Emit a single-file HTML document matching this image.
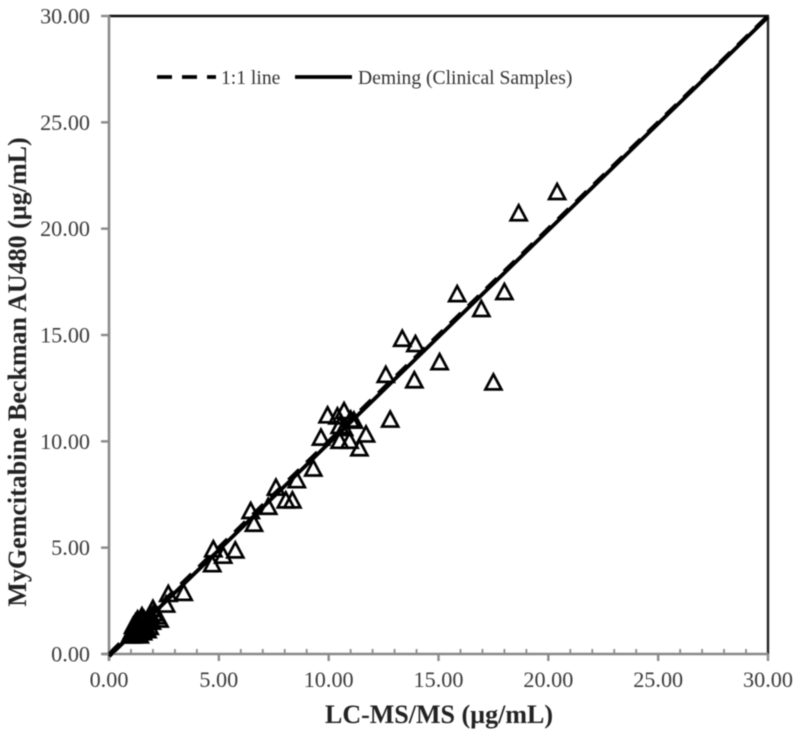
<!DOCTYPE html>
<html>
<head>
<meta charset="utf-8">
<style>
html,body{margin:0;padding:0;background:#fff;}
body{width:800px;height:736px;overflow:hidden;}
svg{display:block;}
text{font-family:"Liberation Serif",serif;}
</style>
</head>
<body>
<svg id="chart" xmlns="http://www.w3.org/2000/svg" width="800" height="736" viewBox="0 0 800 736">
  <defs><filter id="soft" x="-5%" y="-5%" width="110%" height="110%"><feGaussianBlur stdDeviation="0.45"/></filter></defs>
  <g id="root" filter="url(#soft)">
    <g id="frame"></g>
    <g id="ticks"></g>
    <g id="points"></g>
    <g id="lines"></g>
    <g id="labels"></g>
    <text x="439" y="723" text-anchor="middle" font-size="26" font-weight="bold" fill="#222">LC-MS/MS (µg/mL)</text>
    <text transform="translate(26 372) rotate(-90)" text-anchor="middle" font-size="26" font-weight="bold" fill="#222">MyGemcitabine Beckman AU480 (µg/mL)</text>
    <g>
      <line x1="157" y1="77" x2="216" y2="77" stroke="#000" stroke-width="3.8" stroke-dasharray="15 10"/>
      <text x="221" y="84" font-size="19.6" fill="#333">1:1 line</text>
      <line x1="295" y1="77" x2="352" y2="77" stroke="#000" stroke-width="3.8"/>
      <text x="358" y="84" font-size="19.6" fill="#333">Deming (Clinical Samples)</text>
    </g>
  </g>
</svg>
<script>
const xValues = [20.4,18.65,18.0,15.85,16.95,13.35,13.95,15.05,12.6,13.9,17.5,12.8,10.7,9.95,10.4,11.0,11.15,10.5,10.7,11.7,9.65,10.5,10.95,11.4,9.3,8.55,7.6,8.05,8.35,7.25,6.45,6.6,4.75,5.75,5.2,4.7,3.4,2.7,2.6,2.2,2.0,2.3,1.9,1.7,1.5,1.3,1.6,1.1,1.2,1.4,1.0,1.25,1.45,1.8,0.95,1.15,1.05,1.35,1.55,1.75,1.65,1.85,1.3,1.1,1.5,1.95,2.05,1.4,1.2,1.6];
const yValues = [21.7,20.7,17.0,16.9,16.2,14.8,14.55,13.7,13.1,12.85,12.75,11.0,11.4,11.2,11.15,11.0,10.95,10.7,10.6,10.3,10.15,10.0,10.0,9.65,8.7,8.15,7.8,7.2,7.2,6.9,6.7,6.1,4.9,4.85,4.6,4.2,2.85,2.8,2.3,1.75,2.1,1.6,1.8,1.5,1.55,1.4,1.2,1.3,1.0,1.1,0.85,0.9,1.35,1.7,0.85,1.2,1.05,0.9,1.0,1.1,1.35,1.25,1.6,0.85,1.75,1.5,1.9,0.85,1.45,1.6];
const identityLine = [0, 30];
const demingX = [0, 30];
const demingY = [-0.12, 29.95];
const majorTicks = [0, 5, 10, 15, 20, 25, 30];
const majorLabels = ["0.00", "5.00", "10.00", "15.00", "20.00", "25.00", "30.00"];
const minorTicks = [1,2,3,4,6,7,8,9,11,12,13,14,16,17,18,19,21,22,23,24,26,27,28,29];

const NS = 'http://www.w3.org/2000/svg';
const X0 = 109, X1 = 768, Y0 = 654, Y1 = 16, MAXV = 30;
function sx(v){ return X0 + (X1 - X0) * v / MAXV; }
function sy(v){ return Y0 - (Y0 - Y1) * v / MAXV; }
function make(tag, attrs, parent){
  const el = document.createElementNS(NS, tag);
  for (const k in attrs) el.setAttribute(k, attrs[k]);
  parent.appendChild(el);
  return el;
}
const frame = document.getElementById('frame');
const ticksG = document.getElementById('ticks');
const pointsG = document.getElementById('points');
const linesG = document.getElementById('lines');
const labelsG = document.getElementById('labels');

const topBorder = make('line', {x1:X0, y1:Y1, x2:X1+1, y2:Y1, stroke:'#111', 'stroke-width':2.4}, frame);


const rightBorder = make('line', {x1:X1, y1:Y1, x2:X1, y2:Y0, stroke:'#222', 'stroke-width':2.4}, frame);


const yAxis = make('line', {x1:X0, y1:Y1, x2:X0, y2:Y0+7, stroke:'#8a8a8a', 'stroke-width':2.6}, frame);


const xAxis = make('line', {x1:X0-7, y1:Y0, x2:X1, y2:Y0, stroke:'#8a8a8a', 'stroke-width':2.6}, frame);



majorTicks.forEach(function(t, i){
  const xt = make('line', {x1:sx(t), y1:Y0, x2:sx(t), y2:Y0+7, stroke:'#8a8a8a', 'stroke-width':2.4}, ticksG);
  
  
  const yt = make('line', {x1:X0-8, y1:sy(t), x2:X0, y2:sy(t), stroke:'#8a8a8a', 'stroke-width':2.4}, ticksG);
  
  
  const xl = make('text', {x:sx(t), y:687, 'text-anchor':'middle', 'font-size':22.2, fill:'#3a3a3a'}, labelsG);
  xl.textContent = majorLabels[i];
  
  
  const yl = make('text', {x:90, y:sy(t)+7.5, 'text-anchor':'end', 'font-size':22.2, fill:'#3a3a3a'}, labelsG);
  yl.textContent = majorLabels[i];
  
  
});
minorTicks.forEach(function(t){
  const mt = make('line', {x1:sx(t), y1:Y0-5, x2:sx(t), y2:Y0, stroke:'#8a8a8a', 'stroke-width':1.8}, ticksG);
  
  
});

xValues.forEach(function(v, i){
  const cx = sx(v), cy = sy(yValues[i]);
  const pts = [[cx, cy-8.5],[cx+8, cy+6.5],[cx-8, cy+6.5]].map(function(p){ return p.join(','); }).join(' ');
  const tri = make('polygon', {points:pts, fill:'none', stroke:'#000', 'stroke-width':2.7, 'stroke-linejoin':'miter'}, pointsG);
  
  
});

const identity = make('line', {x1:sx(identityLine[0]), y1:sy(identityLine[0]), x2:sx(identityLine[1]), y2:sy(identityLine[1]), stroke:'#000', 'stroke-width':4, 'stroke-dasharray':'15 10'}, linesG);


const deming = make('line', {x1:sx(demingX[0]), y1:sy(demingY[0]), x2:sx(demingX[1]), y2:sy(demingY[1]), stroke:'#000', 'stroke-width':3.8}, linesG);


</script>
</body>
</html>
